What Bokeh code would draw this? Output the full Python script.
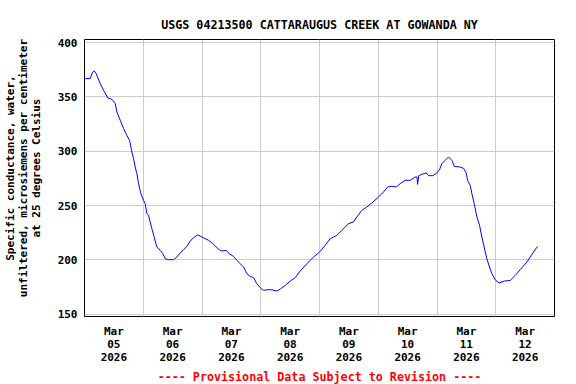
from bokeh.plotting import figure
from bokeh.models import FixedTicker, Range1d, Title
from bokeh.embed import file_html
from bokeh.resources import INLINE

# Time in days since 2026-03-05 00:00 (local)
days = [0.000, 0.097, 0.131, 0.165, 0.199, 0.267, 0.324, 0.398, 0.466, 0.523,
        0.551, 0.608, 0.664, 0.721, 0.767, 0.806, 0.835, 0.863, 0.891, 0.920,
        0.959, 1.005, 1.033, 1.062, 1.090, 1.118, 1.147, 1.186, 1.232, 1.289,
        1.334, 1.374, 1.430, 1.515, 1.572, 1.629, 1.686, 1.742, 1.799, 1.856,
        1.924, 1.981, 2.054, 2.111, 2.168, 2.225, 2.281, 2.338, 2.412, 2.463,
        2.537, 2.594, 2.650, 2.707, 2.764, 2.820, 2.877, 2.934, 2.991, 3.047,
        3.104, 3.189, 3.274, 3.331, 3.416, 3.501, 3.586, 3.671, 3.785, 3.898,
        4.001, 4.097, 4.182, 4.296, 4.381, 4.494, 4.579, 4.636, 4.721, 4.806,
        4.891, 5.005, 5.090, 5.158, 5.232, 5.306, 5.374, 5.459, 5.544, 5.629,
        5.660, 5.669, 5.691, 5.742, 5.816, 5.856, 5.930, 5.998, 6.043, 6.083,
        6.140, 6.196, 6.253, 6.293, 6.384, 6.452, 6.497, 6.520, 6.565, 6.594,
        6.633, 6.679, 6.724, 6.764, 6.803, 6.848, 6.894, 6.934, 6.990, 7.059,
        7.144, 7.246, 7.331, 7.416, 7.530, 7.632, 7.711]

conductance = [366.8, 366.8, 372.0, 373.9, 371.4, 362.2, 356.1, 349.0, 347.8, 343.8,
               336.1, 328.5, 320.8, 314.6, 310.0, 299.3, 293.2, 285.5, 279.4, 270.2,
               260.9, 254.8, 251.7, 242.5, 241.0, 234.8, 228.7, 221.0, 211.8, 208.8,
               205.7, 201.1, 200.2, 200.2, 202.6, 206.3, 209.4, 212.4, 217.3, 220.4,
               222.9, 221.6, 219.5, 218.0, 215.8, 212.8, 209.7, 208.2, 208.8, 205.7,
               203.2, 199.6, 196.5, 193.4, 187.3, 184.8, 183.6, 178.1, 174.4, 171.9,
               172.5, 172.5, 171.3, 173.2, 176.5, 180.5, 183.6, 189.7, 196.5, 202.6,
               207.2, 213.4, 219.5, 222.6, 227.2, 233.3, 234.9, 239.5, 245.6, 248.7,
               252.3, 257.9, 262.5, 267.1, 267.7, 267.1, 270.2, 273.2, 273.2, 276.3,
               276.3, 269.5, 277.5, 278.7, 280.0, 277.5, 277.5, 280.0, 283.0, 288.6,
               291.6, 294.7, 291.6, 286.1, 285.5, 284.3, 280.0, 273.2, 268.6, 260.9,
               251.7, 239.5, 231.8, 221.0, 211.8, 201.1, 193.4, 187.3, 181.7, 178.7,
               180.5, 181.1, 185.7, 191.0, 198.0, 206.3, 212.4]

day_label_pos = [0.5, 1.5, 2.5, 3.5, 4.5, 5.5, 6.5, 7.5]
day_labels = ["Mar\n05\n2026", "Mar\n06\n2026", "Mar\n07\n2026", "Mar\n08\n2026",
              "Mar\n09\n2026", "Mar\n10\n2026", "Mar\n11\n2026", "Mar\n12\n2026"]
day_grid = [1, 2, 3, 4, 5, 6, 7]
y_ticks = [150, 200, 250, 300, 350, 400]

title_text = "USGS 04213500 CATTARAUGUS CREEK AT GOWANDA NY"
y_label_lines = ["Specific conductance, water,",
                 "unfiltered, microsiemens per centimeter",
                 "at 25 degrees Celsius"]
footer_text = "---- Provisional Data Subject to Revision ----"

FONT = "DejaVu Sans Mono"
PAD = "\u00a0\u00a0\u00a0"

p = figure(width=576, height=384, output_backend="svg", toolbar_location=None,
           x_range=Range1d(0, 8), y_range=Range1d(147.9, 402.8),
           min_border_left=84, min_border_right=22, min_border_top=39,
           min_border_bottom=68)

p.add_layout(Title(text=title_text, align="center", text_font=FONT,
                   text_font_size="11.7px", text_font_style="bold",
                   text_color="black", standoff=15), "above")

p.line(days, conductance, line_color="#0000FF", line_width=1)

p.outline_line_color = "black"
p.outline_line_width = 1

xa = p.xaxis[0]
xa.ticker = FixedTicker(ticks=day_label_pos)
xa.major_label_overrides = {t: l for t, l in zip(day_label_pos, day_labels)}
xa.major_tick_line_color = None
xa.minor_tick_line_color = None
xa.major_tick_out = 0
xa.major_tick_in = 0
xa.axis_line_color = None
xa.major_label_text_font = FONT
xa.major_label_text_font_size = "11px"
xa.major_label_text_font_style = "bold"
xa.major_label_text_color = "black"
xa.major_label_text_line_height = 1.0
xa.major_label_standoff = 8

ya = p.yaxis[0]
ya.ticker = FixedTicker(ticks=y_ticks)
ya.major_tick_line_color = None
ya.minor_tick_line_color = None
ya.major_tick_out = 0
ya.major_tick_in = 0
ya.axis_line_color = None
ya.major_label_text_font = FONT
ya.major_label_text_font_size = "11px"
ya.major_label_text_font_style = "bold"
ya.major_label_text_color = "black"
ya.major_label_standoff = 7
ya.axis_label = "\n".join(PAD + s for s in y_label_lines)
ya.axis_label_text_font = FONT
ya.axis_label_text_font_size = "11px"
ya.axis_label_text_font_style = "bold"
ya.axis_label_text_color = "black"
ya.axis_label_text_line_height = 1.0
ya.axis_label_standoff = 12

p.xgrid.ticker = FixedTicker(ticks=day_grid)
p.xgrid.grid_line_color = "#cccccc"
p.ygrid.grid_line_color = "#cccccc"

p.add_layout(Title(text=footer_text, align="center", text_font=FONT,
                   text_font_size="11.7px", text_font_style="bold",
                   text_color="#FF0000", standoff=2), "below")

open("out.html", "w").write(file_html(p, INLINE))
